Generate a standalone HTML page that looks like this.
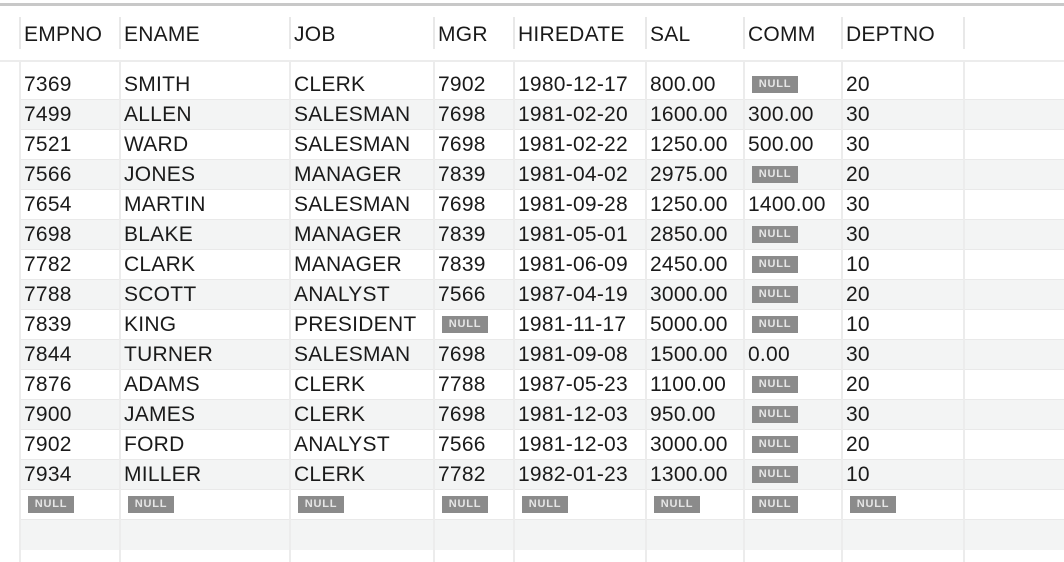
<!DOCTYPE html>
<html><head><meta charset="utf-8"><style>
body{margin:0;width:1064px;height:562px;overflow:hidden;background:#fff;font-family:"Liberation Sans",Arial,sans-serif;position:relative}
.a{position:absolute}
.t{position:absolute;font-size:21px;letter-spacing:0.25px;color:#1a1a1a;line-height:30px;white-space:nowrap}
.n{position:absolute;width:46px;height:17px;background:#8b8b8b;color:#e6e6e6;font-size:11px;font-weight:bold;line-height:17px;text-align:center;letter-spacing:0.8px}
</style></head><body>
<div class="a" style="left:0;top:3px;width:1064px;height:3px;background:#c8c8c8"></div>
<div id="g"></div>
<script>
const cols=["EMPNO","ENAME","JOB","MGR","HIREDATE","SAL","COMM","DEPTNO"];
const rows=[
["7369","SMITH","CLERK","7902","1980-12-17","800.00",null,"20"],
["7499","ALLEN","SALESMAN","7698","1981-02-20","1600.00","300.00","30"],
["7521","WARD","SALESMAN","7698","1981-02-22","1250.00","500.00","30"],
["7566","JONES","MANAGER","7839","1981-04-02","2975.00",null,"20"],
["7654","MARTIN","SALESMAN","7698","1981-09-28","1250.00","1400.00","30"],
["7698","BLAKE","MANAGER","7839","1981-05-01","2850.00",null,"30"],
["7782","CLARK","MANAGER","7839","1981-06-09","2450.00",null,"10"],
["7788","SCOTT","ANALYST","7566","1987-04-19","3000.00",null,"20"],
["7839","KING","PRESIDENT",null,"1981-11-17","5000.00",null,"10"],
["7844","TURNER","SALESMAN","7698","1981-09-08","1500.00","0.00","30"],
["7876","ADAMS","CLERK","7788","1987-05-23","1100.00",null,"20"],
["7900","JAMES","CLERK","7698","1981-12-03","950.00",null,"30"],
["7902","FORD","ANALYST","7566","1981-12-03","3000.00",null,"20"],
["7934","MILLER","CLERK","7782","1982-01-23","1300.00",null,"10"],
[null,null,null,null,null,null,null,null]];
const colX=[19,119,289,433,513,645,743,841,963];
const g=document.getElementById('g');
function add(cls,style,txt){const d=document.createElement('div');d.className=cls;d.style.cssText=style;if(txt!=null)d.textContent=txt;g.appendChild(d);return d;}
let hl=add('a','left:0;top:60px;width:1064px;height:2px;background:#ececec');


for(let i=0;i<=rows.length;i++){
 const top=70+30*i;
 if(i%2===1){const b=add('a',`left:21px;top:${top}px;width:1043px;height:30px;background:#f3f4f4`);
 
 }
 if(i>0){const l=add('a',`left:21px;top:${top-1}px;width:1043px;height:1px;background:#e9e9e9`);
 
 }
}
colX.forEach((x,i)=>{
 const h=add('a',`left:${x}px;top:17px;width:2px;height:32px;background:#e8e8e8`);
 
 
 const b=add('a',`left:${x}px;top:62px;width:2px;height:500px;background:#ececec`);
 
 
});
cols.forEach((c,i)=>{
 const h=add('t',`left:${colX[i]+5}px;top:20px`,c);
 
 
});
rows.forEach((r,ri)=>{
 const top=70+30*ri;
 r.forEach((v,ci)=>{
  if(v===null){
   const n=add('n',`left:${colX[ci]+9}px;top:${top+6}px`,'NULL');
   
   
  }else{
   const t=add('t',`left:${colX[ci]+5}px;top:${top}px`,v);
   
   
  }
 });
});
</script>
</body></html>
